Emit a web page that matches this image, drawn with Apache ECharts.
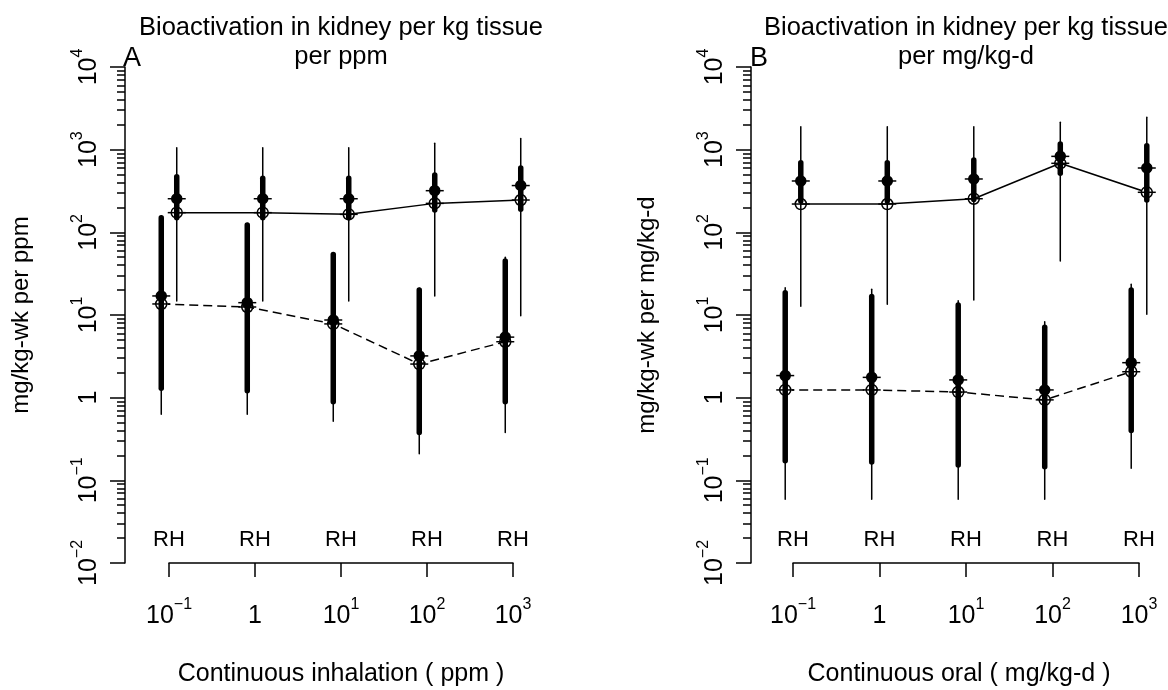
<!DOCTYPE html>
<html lang="en">
<head>
<meta charset="UTF-8">
<title>Bioactivation in kidney per kg tissue</title>
<script src="https://cdn.jsdelivr.net/npm/echarts@6/dist/echarts.min.js"></script>
<style>
    html, body { margin: 0; padding: 0; background: #fff; }
    #chart { width: 1168px; height: 690px; }
</style>
</head>
<body>
<div id="chart"></div>
<script>
    // exposure levels, same in both panels
    var doses = [0.1, 1, 10, 100, 1000];
    var yMajor = [0.01, 0.1, 1, 10, 100, 1000, 10000];
    var groupLabel = 'RH';
    var groupShift = 0.09;   // R drawn left of the dose, H right (log10 units)

    // panel A - inhalation, per ppm
    // rat (R)
    var ratThinLoA  = [0.63, 0.63, 0.52, 0.21, 0.38];
    var ratThickLoA = [1.3, 1.21, 0.89, 0.38, 0.89];
    var ratThickHiA = [150, 123, 54, 20, 45];
    var ratThinHiA  = [158, 128, 56, 21, 50];
    var ratMeanA    = [17, 14.1, 8.7, 3.2, 5.4];
    var ratMedianA  = [13.6, 12.5, 7.8, 2.55, 4.75];
    // human (H)
    var humThinLoA  = [14.8, 14.8, 14.8, 17, 9.8];
    var humThickLoA = [150, 150, 150, 186, 190];
    var humThickHiA = [471, 450, 450, 493, 600];
    var humThinHiA  = [1057, 1057, 1057, 1195, 1365];
    var humMeanA    = [255, 255, 255, 319, 368];
    var humMedianA  = [173, 173, 165, 224, 246];

    // panel B - oral, per mg/kg-d
    var ratThinLoB  = [0.059, 0.059, 0.059, 0.059, 0.14];
    var ratThickLoB = [0.173, 0.167, 0.153, 0.146, 0.4];
    var ratThickHiB = [18.6, 16.7, 13.2, 7.1, 20];
    var ratThinHiB  = [21.4, 20.5, 14.9, 8.3, 23.5];
    var ratMeanB    = [1.85, 1.76, 1.64, 1.24, 2.65];
    var ratMedianB  = [1.24, 1.24, 1.17, 0.94, 2.06];
    var humThinLoB  = [12.8, 13.5, 15.2, 45, 10.2];
    var humThickLoB = [240, 240, 250, 518, 246];
    var humThickHiB = [695, 695, 750, 1170, 1117];
    var humThinHiB  = [1897, 1897, 1897, 2140, 2460];
    var humMeanB    = [418, 418, 442, 830, 600];
    var humMedianB  = [220, 220, 255, 684, 305];

    // minor ticks 2..9 in every decade
    var yMinor = [];
    for (var e = -2; e < 4; e++) {
        for (var k = 2; k <= 9; k++) yMinor.push(+(k * Math.pow(10, e)).toPrecision(3));
    }

    var chart = echarts.init(document.getElementById('chart'));

    var rich = {
        b: { fontSize: 25, lineHeight: 38, color: '#000', fontFamily: 'Liberation Sans' },
        s: { fontSize: 16, lineHeight: 16, verticalAlign: 'top', color: '#000', fontFamily: 'Liberation Sans' }
    };
    function powLabel(e) {
        if (e === 0) return '{b|1}';
        return '{b|10}{s|' + (e < 0 ? '\u2212' + (-e) : e) + '}';
    }

    function barItem(width) {
        return function (params, api) {
            var x = api.value(0);
            var a = api.coord([x, api.value(1)]);
            var b = api.coord([x, api.value(2)]);
            return {
                type: 'line',
                shape: { x1: a[0], y1: a[1], x2: b[0], y2: b[1] },
                style: { stroke: '#000', lineWidth: width, lineCap: 'round' }
            };
        };
    }
    function markItem(filled) {
        return function (params, api) {
            var p = api.coord([api.value(0), api.value(1)]);
            return {
                type: 'group',
                children: [
                    { type: 'line', shape: { x1: p[0] - 9, y1: p[1], x2: p[0] + 9, y2: p[1] },
                      style: { stroke: '#000', lineWidth: 1.5 } },
                    { type: 'circle', shape: { cx: p[0], cy: p[1], r: filled ? 5 : 5.5 },
                      style: { fill: filled ? '#000' : 'none', stroke: '#000', lineWidth: 1.5 } }
                ]
            };
        };
    }

    function xs(shift) {
        return doses.map(function (d) { return Math.log10(d) + shift; });
    }
    function pairs(x, a, b) {
        return x.map(function (v, i) { return b ? [v, a[i], b[i]] : [v, a[i]]; });
    }

    function groupSeries(xi, yi, x, thinLo, thinHi, thickLo, thickHi, mean, median, dashed) {
        return [
            { type: 'custom', xAxisIndex: xi, yAxisIndex: yi, renderItem: barItem(1.5),
              data: pairs(x, thinLo, thinHi), z: 2, silent: true },
            { type: 'custom', xAxisIndex: xi, yAxisIndex: yi, renderItem: barItem(5.5),
              data: pairs(x, thickLo, thickHi), z: 3, silent: true },
            { type: 'line', xAxisIndex: xi, yAxisIndex: yi, data: pairs(x, median),
              symbol: 'none', clip: false, silent: true, z: 4,
              lineStyle: { color: '#000', width: 1.5, type: dashed ? [9, 5] : 'solid' } },
            { type: 'custom', xAxisIndex: xi, yAxisIndex: yi, renderItem: markItem(true),
              data: pairs(x, mean), z: 5, silent: true },
            { type: 'custom', xAxisIndex: xi, yAxisIndex: yi, renderItem: markItem(false),
              data: pairs(x, median), z: 5, silent: true }
        ];
    }

    function xAxes(gi, name, pad) {
        return [{
            type: 'value', gridIndex: gi, position: 'bottom', min: -1, max: 3, interval: 1,
            axisLine: { onZero: false, lineStyle: { color: '#000', width: 1.5 } },
            axisTick: { length: 14, lineStyle: { color: '#000', width: 1.5 } },
            axisLabel: { margin: 34, formatter: function (v) { return powLabel(Math.round(v)); }, rich: rich },
            splitLine: { show: false },
            name: name, nameLocation: 'middle', nameGap: 99,
            nameTextStyle: { fontSize: 25, color: '#000', padding: pad }
        }, {
            type: 'value', gridIndex: gi, position: 'bottom', offset: -23, min: -1, max: 3, interval: 1,
            axisLine: { show: false, onZero: false }, axisTick: { show: false }, splitLine: { show: false },
            axisLabel: { margin: 0, verticalAlign: 'middle', fontSize: 22, color: '#000',
                         formatter: function () { return groupLabel; } }
        }];
    }
    function yAxes(gi, off, name) {
        return [{
            type: 'log', logBase: 10, gridIndex: gi, position: 'left', offset: off, min: 0.01, max: 10000,
            axisLine: { show: true, onZero: false, lineStyle: { color: '#000', width: 1.5 } },
            axisTick: { show: true, length: 15, customValues: yMajor, lineStyle: { color: '#000', width: 1.5 } },
            axisLabel: { rotate: 90, margin: 17, customValues: yMajor, rich: rich,
                         formatter: function (v) { return powLabel(Math.round(Math.log10(v))); } },
            splitLine: { show: false },
            name: name, nameLocation: 'middle', nameGap: 92,
            nameTextStyle: { fontSize: 24, color: '#000' }
        }, {
            type: 'log', logBase: 10, gridIndex: gi, position: 'left', offset: off, min: 0.01, max: 10000,
            axisLine: { show: false, onZero: false },
            axisTick: { show: true, length: 8, customValues: yMinor, lineStyle: { color: '#000', width: 1.5 } },
            axisLabel: { show: false },
            splitLine: { show: false }
        }];
    }

    var series = []
        .concat(groupSeries(0, 0, xs(-groupShift), ratThinLoA, ratThinHiA, ratThickLoA, ratThickHiA, ratMeanA, ratMedianA, true))
        .concat(groupSeries(0, 0, xs(groupShift), humThinLoA, humThinHiA, humThickLoA, humThickHiA, humMeanA, humMedianA, false))
        .concat(groupSeries(2, 2, xs(-groupShift), ratThinLoB, ratThinHiB, ratThickLoB, ratThickHiB, ratMeanB, ratMedianB, true))
        .concat(groupSeries(2, 2, xs(groupShift), humThinLoB, humThinHiB, humThickLoB, humThickHiB, humMeanB, humMedianB, false));

    function label(text, x, y, align, size, lh) {
        return { type: 'text', x: x, y: y, silent: true,
                 style: { text: text, fontSize: size, fontFamily: 'Liberation Sans', fill: '#000',
                          align: align, verticalAlign: 'top', lineHeight: lh } };
    }

    chart.setOption({
        animation: false,
        textStyle: { fontFamily: 'Liberation Sans', color: '#000' },
        grid: [
            { left: 169, top: 67, width: 344, height: 496, outerBoundsMode: 'none' },
            { left: 793, top: 67, width: 346, height: 496, outerBoundsMode: 'none' }
        ],
        xAxis: xAxes(0, 'Continuous inhalation ( ppm )', [0, 0, 0, 0])
            .concat(xAxes(1, 'Continuous oral ( mg/kg-d )', [0, 14, 0, 0])),
        yAxis: yAxes(0, 44, 'mg/kg-wk per ppm').concat(yAxes(1, 42, 'mg/kg-wk per mg/kg-d')),
        graphic: [
            label('Bioactivation in kidney per kg tissue\nper ppm', 341, 13, 'center', 25.5, 29),
            label('Bioactivation in kidney per kg tissue\nper mg/kg-d', 966, 13, 'center', 25.5, 29),
            label('A', 123, 45, 'left', 27, 27),
            label('B', 750, 45, 'left', 27, 27)
        ],
        series: series
    });
</script>
</body>
</html>
